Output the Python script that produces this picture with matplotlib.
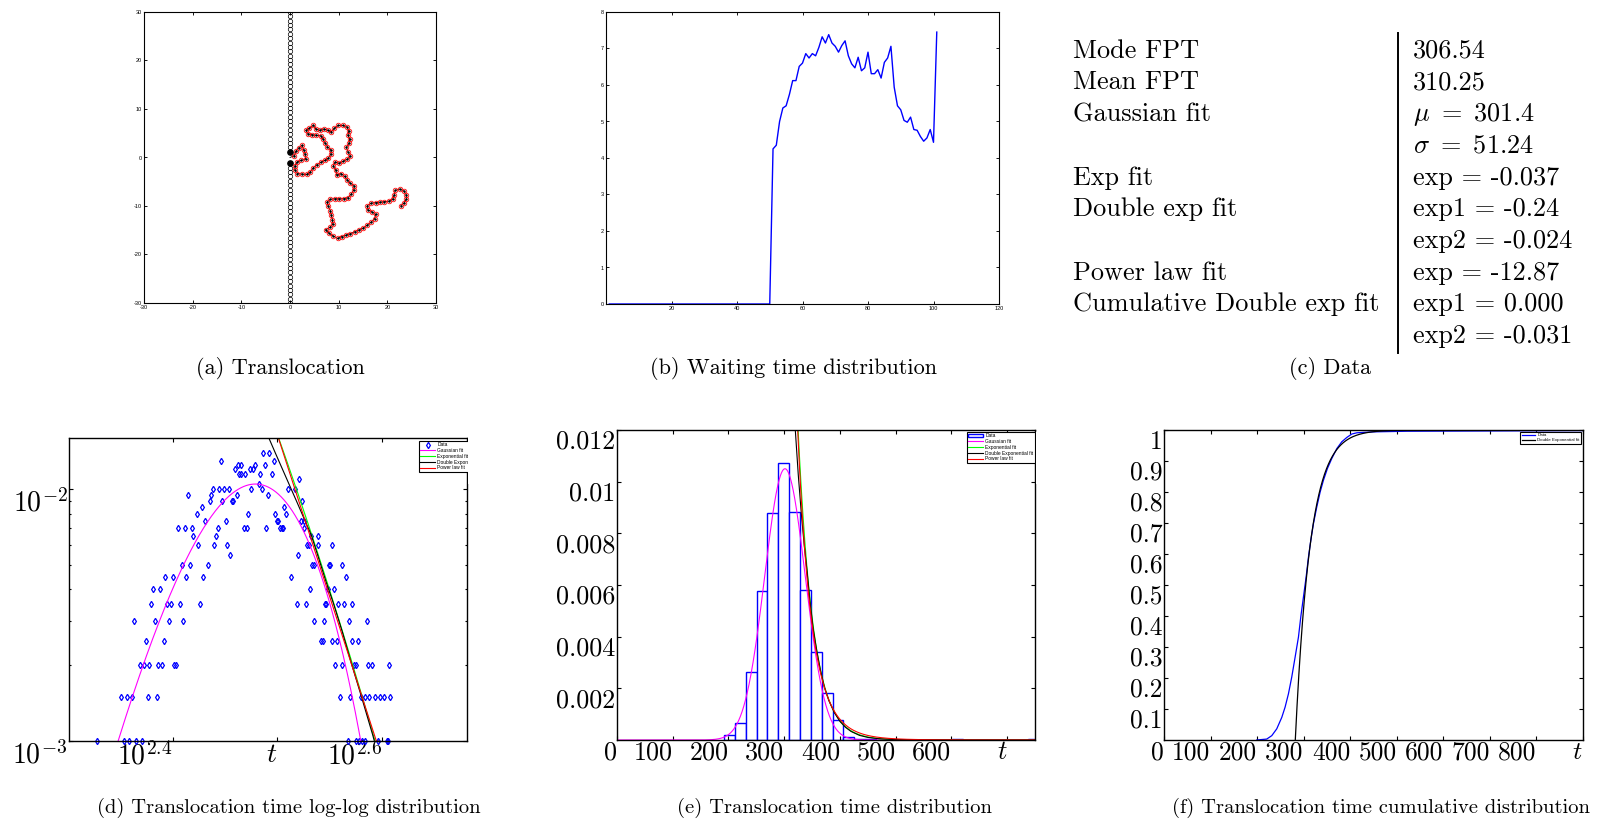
import numpy as np
import matplotlib
matplotlib.use("Agg")
import matplotlib.pyplot as plt
from matplotlib.patches import Rectangle
from matplotlib.ticker import FixedLocator, NullFormatter, NullLocator

plt.rcParams["font.family"] = "serif"
plt.rcParams["font.serif"] = ["cmr10"]
plt.rcParams["mathtext.fontset"] = "cm"
plt.rcParams["axes.unicode_minus"] = False

# ---------------- data ----------------

# (a) translocating chain, bead centres
chain_x = [0.9, 1.2, 1.8, 2.5, 2.8, 3.1, 3.2, 2.3, 1.5, 1.0, 1.0, 1.5, 2.4, 3.4, 4.2,
           4.8, 5.5, 6.3, 7.1, 7.9, 8.4, 8.4, 7.7, 7.2, 6.8, 6.3, 5.4, 4.5, 3.7, 3.3,
           4.0, 4.8, 5.3, 6.1, 7.0, 7.8, 8.5, 9.1, 9.9, 10.8, 11.7, 12.1, 11.9, 12.3, 12.1,
           11.6, 11.9, 12.4, 11.7, 10.9, 10.1, 9.3, 8.9, 9.4, 9.6, 10.5, 11.2, 11.8, 12.4, 13.2,
           13.1, 12.6, 11.9, 11.0, 10.1, 9.2, 8.3, 7.6, 7.9, 8.3, 8.5, 8.7, 8.8, 8.2, 7.3,
           8.0, 8.9, 9.8, 10.6, 11.5, 12.4, 13.3, 14.2, 15.1, 15.9, 16.7, 17.4, 17.6, 16.8, 16.0,
           15.9, 16.7, 17.6, 18.5, 19.4, 20.3, 21.1, 21.4, 21.6, 22.5, 23.4, 23.9, 23.9, 23.4, 22.8]
chain_y = [0.4, 1.3, 2.0, 2.5, 1.6, 0.7, -0.3, -0.6, -0.9, -1.7, -2.6, -3.3, -3.4, -3.5, -2.9,
           -2.1, -1.5, -1.0, -0.6, -0.1, 0.7, 1.6, 2.2, 3.0, 3.8, 4.5, 4.6, 4.7, 4.9, 5.6,
           6.1, 6.6, 5.9, 5.6, 5.9, 5.6, 5.3, 6.0, 6.6, 6.6, 6.3, 5.5, 4.6, 3.8, 2.9,
           2.1, 1.2, 0.3, -0.4, -0.8, -1.2, -0.9, -1.8, -2.6, -3.6, -3.3, -3.9, -4.6, -5.3, -5.8,
           -6.7, -7.5, -8.3, -8.5, -8.5, -8.5, -8.6, -9.2, -10.1, -11.0, -11.9, -12.8, -13.7, -14.4, -14.9,
           -15.6, -16.2, -16.7, -16.3, -16.0, -15.7, -15.3, -14.9, -14.5, -13.9, -13.3, -12.6, -11.7, -11.2, -10.8,
           -9.9, -9.4, -9.3, -9.2, -9.1, -9.0, -8.6, -7.7, -6.8, -6.5, -6.9, -7.7, -8.6, -9.4, -9.9]
pore_y = [1.2, -1.2]
WALL_FIRST, WALL_LAST, WALL_STEP = 2.1, 30.0, 0.9

# (b) waiting time distribution
wait_x = list(range(1, 102))
wait_y = [0.0] * 50 + [
    4.25, 4.35, 5.00, 5.37, 5.43, 5.74, 6.12, 6.12, 6.51, 6.60,
    6.86, 6.74, 6.86, 6.80, 7.03, 7.32, 7.15, 7.38, 7.15, 7.06,
    6.90, 7.08, 7.21, 6.80, 6.58, 6.47, 6.76, 6.39, 6.47, 6.90,
    6.31, 6.31, 6.42, 6.19, 6.62, 6.74, 7.06, 5.94, 5.43, 5.32,
    5.03, 4.98, 5.12, 4.78, 4.76, 4.59, 4.46, 4.55, 4.78, 4.43, 7.45]

# (c) table
table_labels = ["Mode FPT", "Mean FPT", "Gaussian fit", "", "Exp fit", "Double exp fit",
                "", "Power law fit", "Cumulative Double exp fit", ""]
table_values = ["306.54", "310.25", r"$\mu\ =\ 301.4$", r"$\sigma\ =\ 51.24$", "exp = -0.037",
                "exp1 = -0.24", "exp2 = -0.024", "exp = -12.87", "exp1 = 0.000", "exp2 = -0.031"]

# (d) log-log histogram points: (probability x 1e-3, times)
loglog_rows = [
    (1.0, [212.5, 225.9, 228.0, 231.9, 234.6, 369.2, 375.8, 378.8, 380.8, 383.9, 395.0, 402.3, 403.2]),
    (1.5, [224.1, 227.0, 229.9, 237.7, 242.5, 363.0, 370.8, 380.2, 383.6, 387.0, 392.1, 396.4, 400.2, 405.0]),
    (2.0, [233.8, 235.8, 238.6, 243.4, 245.5, 252.1, 252.9, 359.1, 364.4, 374.1, 376.3, 386.1, 389.2, 404.1]),
    (2.5, [236.7, 246.4, 347.9, 349.5, 356.4, 360.9, 373.0, 378.0]),
    (3.0, [230.9, 241.4, 249.4, 257.0, 342.6, 350.5, 370.0, 385.5]),
    (3.5, [239.5, 248.1, 250.3, 255.1, 266.8, 330.0, 336.9, 351.5, 352.3, 361.4, 366.2, 372.5]),
    (4.0, [240.6, 244.5, 339.9, 353.3, 358.3]),
    (4.5, [247.2, 251.2, 258.9, 268.7, 326.2, 368.1]),
    (5.0, [256.2, 261.0, 271.5, 341.6, 343.1, 354.4, 355.4, 364.6]),
    (5.5, [285.2, 331.0]),
    (6.0, [265.8, 275.3, 283.3, 337.9, 338.9, 346.2, 357.0]),
    (6.5, [262.9, 276.3, 340.4, 345.6]),
    (7.0, [254.2, 257.9, 261.9, 277.3, 293.9, 295.9, 308.5, 318.1, 319.3, 320.4, 335.4]),
    (7.5, [269.9, 282.3, 316.0, 316.9, 333.2, 335.1]),
    (8.0, [264.8, 296.7, 314.6, 322.1]),
    (8.5, [267.7, 321.2]),
    (9.0, [272.5, 280.2, 286.0, 286.9, 334.2]),
    (9.5, [260.0, 273.5, 289.2, 309.5]),
    (10.0, [274.3, 278.4, 281.2, 284.1, 298.7, 305.6, 324.0, 328.8]),
    (10.5, [303.6]),
    (11.0, [332.0]),
    (11.5, [290.5, 292.0, 294.8, 304.5, 312.4]),
    (12.0, [287.9, 297.6, 299.6]),
    (12.5, [290.3, 291.8, 301.1, 307.6]),
    (13.0, [279.4, 313.7]),
    (14.0, [306.5, 310.2]),
]

# fit parameters (table c) and amplitudes
GAUSS_AMP, GAUSS_MU, GAUSS_SIGMA = 0.0105, 301.4, 51.24
EXP_AMP, EXP_RATE = 2000.0, -0.037
POW_LOG_AMP, POW_EXP = 30.393, -12.87
CUM_SHIFT, CUM_RATE = 282.0, -0.031

dbl_t = [305.0, 310.5, 315.0, 320.1, 325.3, 330.6, 335.9, 340.8, 346.0, 352.0, 358.0, 365.0,
         372.0, 380.0, 390.0, 400.0, 410.0, 420.0, 435.0, 450.0, 470.0, 500.0, 550.0, 600.0, 750.0]
dbl_p = [0.0185, 0.01596, 0.0139, 0.01194, 0.01025, 0.0088, 0.00755, 0.00658, 0.0054, 0.0043,
         0.0035, 0.0027, 0.00205, 0.00153, 0.00106, 0.00072, 0.00049, 0.00033, 0.00018, 0.0001,
         0.000048, 0.000016, 0.0000025, 0.0000004, 0.0]

# (e) histogram
HIST_WIDTH = 19.45
hist_left = [192.2, 211.65, 231.1, 250.55, 270.0, 289.45, 308.9, 328.35, 347.8, 367.25,
             386.7, 406.15, 425.6, 445.05, 600.65, 736.8]
hist_height = [0.00018, 0.00065, 0.00262, 0.00575, 0.0088, 0.01074, 0.00884, 0.00582, 0.00339,
               0.00183, 0.00077, 0.00013, 0.00005, 0.00003, 0.000026, 0.000026]

# (f) cumulative distribution
cdf_t = [199.2, 220.7, 231.5, 242.2, 253.0, 260.1, 267.3, 274.4, 281.6, 288.8, 293.8, 299.5,
         305.3, 310.3, 315.3, 321.0, 328.2, 335.4, 342.5, 351.1, 360.4, 371.2, 381.9, 392.7,
         403.4, 414.2, 450.0, 521.7, 900.0]
cdf_p = [0.0, 0.003, 0.014, 0.036, 0.073, 0.106, 0.149, 0.203, 0.267, 0.332, 0.397, 0.461,
         0.526, 0.590, 0.644, 0.698, 0.752, 0.800, 0.838, 0.876, 0.908, 0.940, 0.962, 0.976,
         0.987, 0.991, 0.994, 0.996, 0.998]


def gauss_fit(t):
    return GAUSS_AMP * np.exp(-((t - GAUSS_MU) / GAUSS_SIGMA) ** 2)


def exp_fit(t):
    return EXP_AMP * np.exp(EXP_RATE * t)


def power_fit(t):
    return 10 ** (POW_LOG_AMP + POW_EXP * np.log10(t))


def cum_fit(t):
    return 1 - np.exp(CUM_RATE * (t - CUM_SHIFT))


# ---------------- figure ----------------
W, H = 1599, 822
fig = plt.figure(figsize=(W / 100, H / 100), dpi=100)


def axes_px(x0, y0, x1, y1):
    return fig.add_axes([x0 / W, 1 - y1 / H, (x1 - x0) / W, (y1 - y0) / H])


def matlab_style(ax, lw, length):
    for s in ax.spines.values():
        s.set_linewidth(lw)
    ax.tick_params(which="both", direction="in", top=True, right=True,
                   length=length, width=lw * 0.8)
    ax.tick_params(which="minor", length=length * 0.6)


small = dict(fontsize=4, family="Liberation Sans")

# (a) Translocation
ax_a = axes_px(144, 12, 436, 303)
wall = np.arange(WALL_FIRST, WALL_LAST + 0.05, WALL_STEP)
wall_y = np.concatenate([-wall[::-1], wall])
ax_a.plot(np.zeros_like(wall_y), wall_y, ls="none", marker="o", mfc="none",
          mec="black", ms=3.2, mew=0.5)
ax_a.plot([0, 0], pore_y, ls="none", marker="o", color="black", ms=3.8)
ax_a.plot([0] + chain_x, [0] + chain_y, color="black", lw=0.6)
ax_a.plot(chain_x, chain_y, ls="none", marker="o", mfc="none", mec="red", ms=3.3, mew=0.55)
ax_a.plot(chain_x, chain_y, ls="none", marker="o", color="black", ms=0.8)
ax_a.set_xlim(-30, 30)
ax_a.set_ylim(-30, 30)
ticks_a = [-30, -20, -10, 0, 10, 20, 30]
ax_a.set_xticks(ticks_a, labels=[str(v) for v in ticks_a], **small)
ax_a.set_yticks(ticks_a, labels=[str(v) for v in ticks_a], **small)
matlab_style(ax_a, 0.8, 2)
ax_a.tick_params(pad=1.5)

# (b) Waiting time distribution
ax_b = axes_px(606, 12, 999, 304)
ax_b.plot(wait_x, wait_y, color="blue", lw=1.0)
ax_b.set_xlim(0, 120)
ax_b.set_ylim(0, 8)
ticks_bx = [20, 40, 60, 80, 100, 120]
ax_b.set_xticks(ticks_bx, labels=[str(v) for v in ticks_bx], **small)
ax_b.set_yticks(range(9), labels=[str(v) for v in range(9)], **small)
matlab_style(ax_b, 0.8, 2)
ax_b.tick_params(pad=1.5)

# (c) Data table
for i, (lab, val) in enumerate(zip(table_labels, table_values)):
    yb = 1 - (57.7 + 31.7 * i) / H
    if lab:
        fig.text(1073 / W, yb, lab, fontsize=18.9, va="baseline", ha="left")
    fig.text(1413 / W, yb, val, fontsize=18.9, va="baseline", ha="left")
fig.add_artist(plt.Line2D([1397.5 / W, 1397.5 / W], [1 - 33 / H, 1 - 353 / H],
                          transform=fig.transFigure, color="black", lw=1.4))

# (d) log-log distribution
ax_d = axes_px(69, 438, 467, 741)
ax_d.set_xscale("log")
ax_d.set_yscale("log")
ll_t = [t for lvl, ts in loglog_rows for t in ts]
ll_p = [lvl * 1e-3 for lvl, ts in loglog_rows for t in ts]
t_d = np.linspace(200, 480, 1200)
ax_d.plot(ll_t, ll_p, ls="none", marker="d", mfc="none", mec="blue", ms=3.2, mew=0.9,
          label="Data", clip_on=False)
ax_d.plot(t_d, gauss_fit(t_d), color="magenta", lw=0.8, label="Gaussian fit")
ax_d.plot(t_d, exp_fit(t_d), color="#00ff00", lw=0.8, label="Exponential fit")
ax_d.plot(dbl_t, dbl_p, color="black", lw=0.8, label="Double Exponential fit")
ax_d.plot(t_d, power_fit(t_d), color="red", lw=0.8, label="Power law fit")
ax_d.set_xlim(200, 480)
ax_d.set_ylim(1e-3, 0.016)
ax_d.set_xticks([10 ** 2.4, 10 ** 2.5, 10 ** 2.6],
                labels=[r"$10^{2.4}$", r"$t$", r"$10^{2.6}$"], fontsize=20, ha="right")
ax_d.xaxis.set_minor_locator(NullLocator())
ax_d.set_yticks([1e-3, 1e-2], labels=[r"$10^{-3}$", r"$10^{-2}$"], fontsize=20, va="top")
ax_d.yaxis.set_minor_locator(FixedLocator([k * 1e-3 for k in range(2, 10)]))
ax_d.yaxis.set_minor_formatter(NullFormatter())
matlab_style(ax_d, 1.0, 3)
ax_d.tick_params(axis="x", pad=0.5)
ax_d.tick_params(axis="y", pad=1)

# (e) distribution
ax_e = axes_px(617, 430, 1035, 740)
ax_e.bar(hist_left, hist_height, width=HIST_WIDTH, align="edge", facecolor="white",
         edgecolor="blue", lw=1.0, label="Data")
t_e = np.linspace(1, 750, 3000)
ax_e.plot(t_e, gauss_fit(t_e), color="magenta", lw=0.8, label="Gaussian fit")
ax_e.plot(t_e, exp_fit(t_e), color="#00ff00", lw=0.8, label="Exponential fit")
ax_e.plot(dbl_t, dbl_p, color="black", lw=0.8, label="Double Exponential fit")
ax_e.plot(t_e, power_fit(t_e), color="red", lw=0.8, label="Power law fit")
ax_e.set_xlim(0, 750)
ax_e.set_ylim(0, 0.012)
ticks_ex = [0, 100, 200, 300, 400, 500, 600, 700]
ax_e.set_xticks(ticks_ex, labels=[str(v) for v in ticks_ex[:-1]] + [r"$t$"],
                fontsize=18.8, ha="right")
ticks_ey = [0.002, 0.004, 0.006, 0.008, 0.01, 0.012]
ax_e.set_yticks(ticks_ey, labels=["0.002", "0.004", "0.006", "0.008", "0.01", "0.012"],
                fontsize=18.8, va="top")
matlab_style(ax_e, 1.0, 3)
ax_e.tick_params(axis="x", pad=0.5)
ax_e.tick_params(axis="y", pad=1)

# (f) cumulative distribution
ax_f = axes_px(1164, 430, 1583, 740)
t_f = np.linspace(250, 900, 2000)
ax_f.plot(cdf_t, cdf_p, color="blue", lw=0.9, label="Data")
ax_f.plot(t_f, cum_fit(t_f), color="black", lw=0.9, label="Double Exponential fit")
ax_f.set_xlim(0, 900)
ax_f.set_ylim(0, 1)
ticks_fx = list(range(0, 1000, 100))
ax_f.set_xticks(ticks_fx, labels=[str(v) for v in ticks_fx[:-1]] + [r"$t$"],
                fontsize=18.4, ha="right")
ticks_fy = [0.1, 0.2, 0.3, 0.4, 0.5, 0.6, 0.7, 0.8, 0.9, 1.0]
ax_f.set_yticks(ticks_fy, labels=["0.1", "0.2", "0.3", "0.4", "0.5", "0.6", "0.7",
                                  "0.8", "0.9", "1"], fontsize=18.4, va="top")
matlab_style(ax_f, 1.0, 3)
ax_f.tick_params(axis="x", pad=0.5)
ax_f.tick_params(axis="y", pad=1)

# legends, "Data" entry first
leg_kw = dict(frameon=True, fancybox=False, edgecolor="black", framealpha=1,
              borderpad=0.3, labelspacing=0.15, handlelength=3.0, handletextpad=0.5,
              borderaxespad=0, bbox_transform=fig.transFigure)
for ax, (lx, ly), loc, size in [(ax_d, (419, 441), "upper left", 3.5),
                                (ax_e, (967, 432), "upper left", 3.5),
                                (ax_f, (1581, 432), "upper right", 3.2)]:
    handles, labels = ax.get_legend_handles_labels()
    k = labels.index("Data")
    handles = [handles[k]] + handles[:k] + handles[k + 1:]
    labels = [labels[k]] + labels[:k] + labels[k + 1:]
    leg = ax.legend(handles, labels, loc=loc, bbox_to_anchor=(lx / W, 1 - ly / H),
                    prop={"family": "Liberation Sans", "size": size}, **leg_kw)
    leg.get_frame().set_linewidth(0.8)

# legends overflowing the right edge of (d) and (e) are cut off in the original
for x0, x1 in [(468, 545), (1036, 1110)]:
    fig.add_artist(Rectangle((x0 / W, 1 - 484 / H), (x1 - x0) / W, 52 / H,
                             transform=fig.transFigure, facecolor="white",
                             edgecolor="none", zorder=10))

# captions
captions = [("(a) Translocation", 280, 368, 16),
            ("(b) Waiting time distribution", 794, 368, 16),
            ("(c) Data", 1330, 368, 16),
            ("(d) Translocation time log-log distribution", 289, 808, 14.8),
            ("(e) Translocation time distribution", 834, 808, 14.8),
            ("(f) Translocation time cumulative distribution", 1381, 808, 14.8)]
for text, cx, cy, size in captions:
    fig.text(cx / W, 1 - cy / H, text, fontsize=size, ha="center", va="center")

fig.savefig("out.png", dpi=100)
